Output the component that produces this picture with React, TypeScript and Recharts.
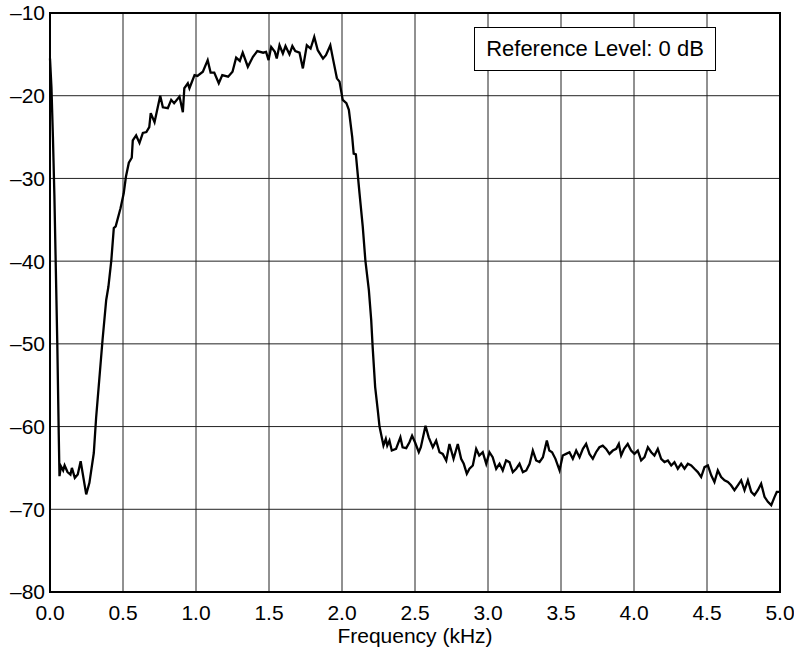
import { LineChart, Line, XAxis, YAxis, CartesianGrid, ReferenceArea } from "recharts";

// spectrum: frequency (kHz) and level (dB)
const freqKHz = [
  0, 0.01, 0.02, 0.03, 0.04, 0.05, 0.06, 0.065, 0.075, 0.09, 0.1, 0.12, 0.14, 0.15, 0.17, 0.19, 0.21,
  0.248, 0.27, 0.3, 0.316, 0.36, 0.385, 0.4, 0.42, 0.437, 0.45, 0.483, 0.505, 0.52, 0.54, 0.56, 0.567,
  0.59, 0.613, 0.636, 0.66, 0.68, 0.69, 0.716, 0.755, 0.773, 0.807, 0.83, 0.85, 0.887, 0.91, 0.92,
  0.944, 0.955, 0.99, 1.01, 1.047, 1.08, 1.1, 1.125, 1.156, 1.18, 1.22, 1.25, 1.275, 1.3, 1.32, 1.355,
  1.39, 1.42, 1.46, 1.48, 1.497, 1.515, 1.54, 1.553, 1.572, 1.595, 1.613, 1.64, 1.66, 1.68, 1.709,
  1.732, 1.759, 1.785, 1.81, 1.834, 1.87, 1.89, 1.92, 1.94, 1.965, 1.983, 2.005, 2.03, 2.047, 2.07,
  2.08, 2.095, 2.12, 2.142, 2.16, 2.184, 2.2, 2.21, 2.227, 2.245, 2.257, 2.284, 2.3, 2.31, 2.325,
  2.341, 2.37, 2.4, 2.415, 2.44, 2.462, 2.48, 2.5, 2.526, 2.54, 2.572, 2.594, 2.622, 2.645, 2.668,
  2.69, 2.714, 2.736, 2.764, 2.793, 2.816, 2.834, 2.855, 2.873, 2.896, 2.919, 2.94, 2.964, 2.988,
  3.01, 3.032, 3.056, 3.079, 3.101, 3.124, 3.147, 3.17, 3.193, 3.216, 3.239, 3.262, 3.285, 3.307,
  3.33, 3.353, 3.376, 3.403, 3.42, 3.439, 3.462, 3.49, 3.512, 3.535, 3.558, 3.581, 3.604, 3.627,
  3.65, 3.672, 3.695, 3.718, 3.74, 3.763, 3.786, 3.809, 3.832, 3.855, 3.878, 3.896, 3.912, 3.932,
  3.957, 3.98, 4.003, 4.026, 4.049, 4.072, 4.095, 4.118, 4.14, 4.163, 4.186, 4.209, 4.232, 4.255,
  4.277, 4.3, 4.323, 4.346, 4.369, 4.392, 4.414, 4.437, 4.46, 4.483, 4.506, 4.529, 4.551, 4.574,
  4.597, 4.62, 4.643, 4.665, 4.688, 4.711, 4.734, 4.757, 4.78, 4.803, 4.825, 4.848, 4.871, 4.894,
  4.917, 4.94, 4.963, 4.978, 5.0,
];

const levelDb = [
  -15.5, -19, -25, -32, -41, -50, -61, -66, -64.8, -65.3, -64.7, -65.5, -65.8, -65, -66.2, -65.8, -64.2,
  -68.2, -66.8, -63.2, -58.9, -49.5, -44.7, -43.1, -39.9, -36, -35.8, -33.6, -31.8, -29.8, -28.1, -27.5, -25.4,
  -24.8, -25.7, -24.5, -24.4, -23.8, -22.1, -23.2, -20, -21.4, -21.5, -20.5, -20.9, -20.1, -22, -19.1,
  -18.5, -19.1, -17.5, -17.6, -17.1, -15.7, -17.2, -17.2, -18.5, -17.5, -17.7, -17.1, -15.4, -15.8, -14.8, -16.5,
  -15.3, -14.6, -14.8, -14.7, -15.7, -14.1, -14.7, -15.5, -13.9, -14.9, -14, -15, -14, -14.6, -14.8,
  -16.7, -13.9, -14.3, -12.9, -14.5, -15.5, -15.1, -13.9, -15.7, -17.9, -18.3, -20.5, -20.9, -21.7, -25,
  -27, -27.1, -31.8, -35.8, -39.9, -43.5, -47.1, -50.4, -55.2, -58, -60, -62.3, -61.5, -62.3, -61.7,
  -62.9, -62.7, -61.3, -62.5, -62.6, -61.9, -61.1, -61.9, -63.1, -62.5, -59.9, -61.3, -62.5, -61.7, -63.1,
  -63.3, -64.1, -62.1, -63.9, -62.1, -63.9, -64.5, -65.7, -65.1, -64.7, -62.7, -63.5, -63.1, -64.5,
  -63.1, -63.7, -65.1, -64.5, -65.3, -64.1, -64.3, -65.5, -65.1, -64.5, -65.5, -65.3, -64.5, -62.9,
  -64.1, -64.3, -63.7, -61.7, -62.9, -63.1, -63.9, -65.3, -63.5, -63.3, -63.1, -63.9, -62.9, -63.7,
  -62.7, -62.1, -63.3, -63.9, -63.1, -62.5, -62.3, -62.7, -63.3, -62.9, -62.7, -62.1, -63.5, -62.7,
  -62.1, -62.9, -63.3, -62.9, -64.1, -63.7, -62.5, -63.1, -63.5, -62.7, -63.9, -64.3, -64.1, -64.7,
  -64.3, -65.1, -64.5, -65.1, -64.5, -64.7, -65.1, -65.5, -66.1, -64.9, -64.7, -65.9, -66.7, -65.3,
  -66.1, -66.5, -66.7, -67.1, -67.7, -67.1, -66.5, -67.7, -66.5, -67.9, -68.3, -67.7, -66.9, -68.5,
  -69.1, -69.5, -68.5, -67.9, -67.9,
];

const xTicks = [0, 0.5, 1, 1.5, 2, 2.5, 3, 3.5, 4, 4.5, 5];
const yTicks = [-80, -70, -60, -50, -40, -30, -20, -10];

const xLabel = "Frequency (kHz)";
const boxText = "Reference Level: 0 dB";

const font = "'Liberation Sans', Arial, Helvetica, sans-serif";

export default function App() {
  const data = freqKHz.map((f, i) => ({ f, db: levelDb[i] }));

  return (
    <div style={{ position: "absolute", left: 0, top: 0, width: 794, height: 654, background: "#fff", fontFamily: font }}>
      <LineChart width={794} height={654} data={data} margin={{ top: 13, right: 14, left: 0, bottom: 0 }}>
        <CartesianGrid stroke="#222" strokeWidth={1} />
        <XAxis
          dataKey="f"
          type="number"
          domain={[0, 5]}
          ticks={xTicks}
          tickFormatter={(v: number) => v.toFixed(1)}
          height={62}
          tickSize={0}
          tickMargin={13}
          axisLine={false}
          tick={{ fill: "#000", fontSize: 21, fontFamily: font }}
          label={{ value: xLabel, position: "insideBottom", offset: 11, fill: "#000", fontSize: 21, fontFamily: font }}
        />
        <YAxis
          type="number"
          domain={[-80, -10]}
          ticks={yTicks}
          width={50}
          tickSize={0}
          tickMargin={5}
          axisLine={false}
          tick={{ fill: "#000", fontSize: 21, fontFamily: font }}
          tickFormatter={(v: number) => String(v).replace("-", "\u2013")}
        />
        <ReferenceArea x1={0} x2={5} y1={-80} y2={-10} fill="none" stroke="#000" strokeWidth={2} />
        <Line
          type="linear"
          dataKey="db"
          stroke="#000"
          strokeWidth={2.3}
          dot={false}
          isAnimationActive={false}
        />
      </LineChart>
      <div
        style={{
          position: "absolute",
          left: 474,
          top: 27,
          width: 240,
          height: 42,
          border: "1.5px solid #000",
          background: "#fff",
          display: "flex",
          alignItems: "center",
          justifyContent: "center",
          fontSize: 22,
          color: "#000",
          whiteSpace: "nowrap",
        }}
      >
        {boxText}
      </div>
    </div>
  );
}
